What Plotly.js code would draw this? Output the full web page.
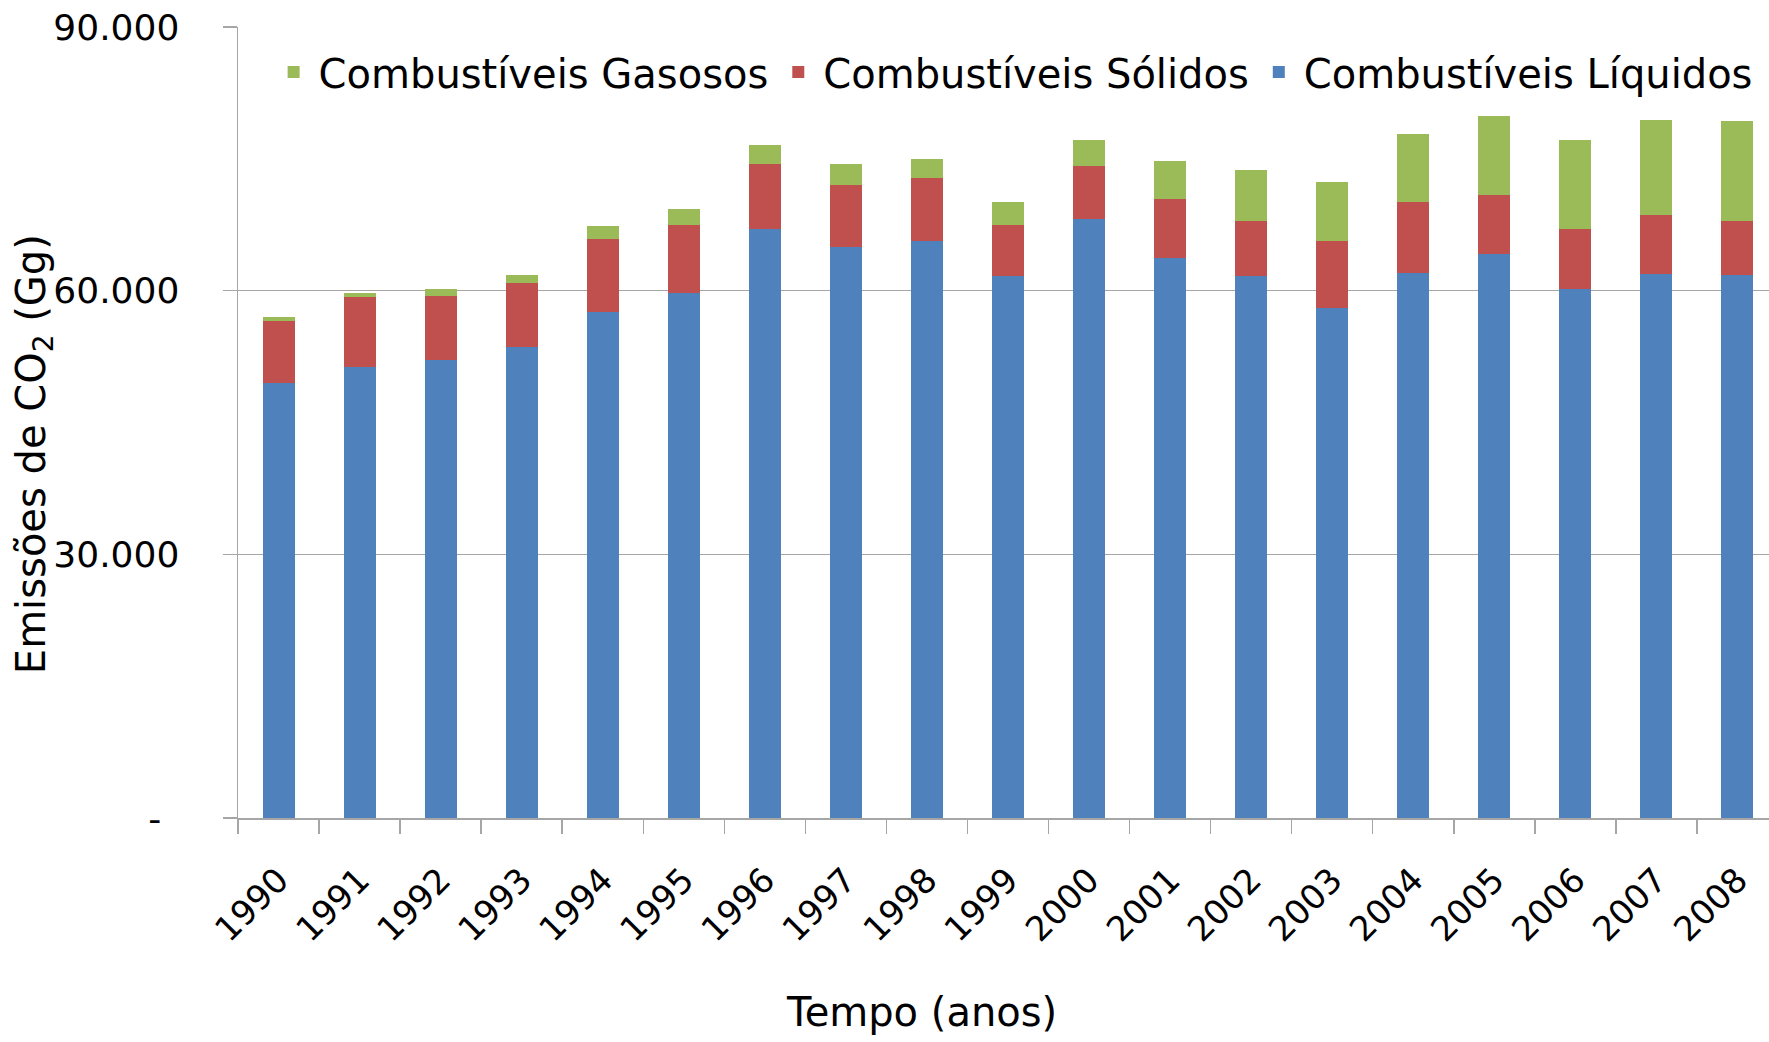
<!DOCTYPE html>
<html>
<head>
<meta charset="utf-8">
<script src="https://cdn.plot.ly/plotly-3.0.1.min.js"></script>
<style>html,body{margin:0;padding:0;background:#fff;}#chart{width:1769px;height:1042px;}</style>
</head>
<body>
<div id="chart"></div>
<script>
const years = ["1990","1991","1992","1993","1994","1995","1996","1997","1998","1999","2000","2001","2002","2003","2004","2005","2006","2007","2008"];
// cumulative tops
const liquidos = [49470,51290,52120,53560,57580,59770,67050,64960,65640,61630,68140,63710,61630,57990,62010,64130,60230,61890,61740];
const solidosTop = [56590,59240,59390,60910,65910,67460,74430,72080,72770,67460,74170,70380,67920,65640,70110,70830,67050,68560,67920];
const gasososTop = [56970,59770,60230,61740,67350,69240,76520,74430,74960,70110,77200,74700,73710,72310,77770,79850,77200,79470,79280];
const solidos = solidosTop.map((v,i)=>v-liquidos[i]);
const gasosos = gasososTop.map((v,i)=>v-solidosTop[i]);
const yTickVals = [0,30000,60000,90000];
const yTickText = ["-\u2002","30.000","60.000","90.000"];

const FONT = "DejaVu Sans, sans-serif";
const traces = [
  {type:'bar', name:'Combustíveis Líquidos', x:years, y:liquidos, marker:{color:'#4F81BD'}},
  {type:'bar', name:'Combustíveis Sólidos', x:years, y:solidos, marker:{color:'#C0504D'}},
  {type:'bar', name:'Combustíveis Gasosos', x:years, y:gasosos, marker:{color:'#9BBB59'}}
];
const layout = {
  width:1769, height:1042,
  margin:{l:238, r:0, t:27, b:224},
  barmode:'stack', bargap:0.605,
  paper_bgcolor:'#fff', plot_bgcolor:'#fff',
  font:{family:FONT, color:'#000', size:36},
  showlegend:true,
  legend:{orientation:'h', traceorder:'reversed', x:0.02, xanchor:'left', y:0.943, yanchor:'middle',
          itemwidth:40, font:{family:FONT, size:40, color:'#000'}, bgcolor:'rgba(0,0,0,0)'},
  xaxis:{type:'category', range:[-0.5,18.389], tickson:'boundaries', ticks:'outside', ticklen:14, tickcolor:'#A6A6A6', tickwidth:1.5,
         showline:true, linecolor:'#A6A6A6', linewidth:1.5, showgrid:false, tickangle:-45,
         tickfont:{family:FONT, size:34, color:'#000'}, ticklabelstandoff:27},
  yaxis:{range:[0,90000], tickmode:'array', tickvals:yTickVals, ticktext:yTickText, ticks:'outside', ticklen:14,
         tickcolor:'#A6A6A6', tickwidth:1.5, showline:true, linecolor:'#A6A6A6', linewidth:1.5,
         showgrid:true, gridcolor:'#A6A6A6', gridwidth:1.5, zeroline:false,
         tickfont:{family:FONT, size:36, color:'#000'}, ticklabelstandoff:36},
  annotations:[
    {text:'Emissões de CO<sub>2</sub> (Gg)', xref:'paper', yref:'paper', x:(34-238)/1531, y:0.46, xanchor:'center', yanchor:'middle',
     textangle:-90, showarrow:false, font:{family:FONT, size:40, color:'#000'}},
    {text:'Tempo (anos)', xref:'paper', yref:'paper', x:(921-238)/1531, y:-(1012-818)/791, xanchor:'center', yanchor:'middle',
     showarrow:false, font:{family:FONT, size:40, color:'#000'}}
  ]
};
Plotly.newPlot('chart', traces, layout, {displayModeBar:false, staticPlot:true});
</script>
</body>
</html>
